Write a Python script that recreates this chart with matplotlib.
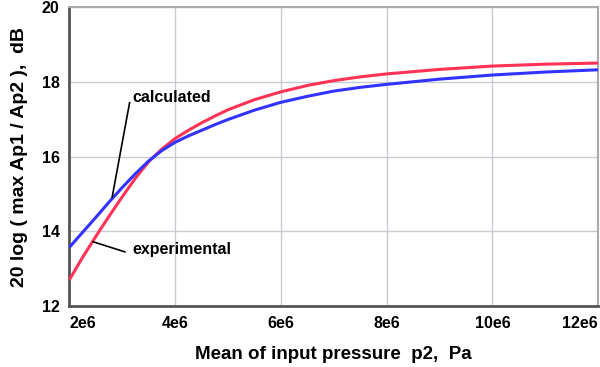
import matplotlib
matplotlib.use("Agg")
import matplotlib.pyplot as plt

# Data (pressure in units of 1e6 Pa)
p2_calc = [2.0, 2.25, 2.5, 2.75, 3.0, 3.25, 3.5, 3.75, 4.0, 4.25, 4.5, 4.75, 5.0, 5.5, 6.0, 6.5, 7.0, 7.5, 8.0, 9.0, 10.0, 11.0, 12.0]
calculated = [13.57, 13.97, 14.37, 14.78, 15.17, 15.54, 15.88, 16.16, 16.38, 16.55, 16.7, 16.85, 16.99, 17.24, 17.45, 17.61, 17.75, 17.85, 17.93, 18.07, 18.18, 18.26, 18.32]
p2_exp = [2.0, 2.25, 2.5, 2.75, 3.0, 3.25, 3.5, 3.75, 4.0, 4.25, 4.5, 4.75, 5.0, 5.5, 6.0, 6.5, 7.0, 7.5, 8.0, 9.0, 10.0, 11.0, 12.0]
experimental = [12.7, 13.3, 13.86, 14.4, 14.92, 15.42, 15.86, 16.2, 16.48, 16.7, 16.9, 17.08, 17.25, 17.52, 17.73, 17.9, 18.03, 18.13, 18.21, 18.33, 18.42, 18.47, 18.5]

xticks = [2, 4, 6, 8, 10, 12]
xtick_labels = ["2e6", "4e6", "6e6", "8e6", "10e6", "12e6"]
yticks = [12, 14, 16, 18, 20]

plt.rcParams['font.family'] = ['Liberation Sans', 'DejaVu Sans']

fig = plt.figure(figsize=(6, 3.67), dpi=100)
ax = fig.add_axes([0.1155, 0.166, 0.8815, 0.815])

ax.plot(p2_exp, experimental, color='#ff3355', lw=2.2, solid_capstyle='butt', zorder=3)
ax.plot(p2_calc, calculated, color='#3333ff', lw=2.2, solid_capstyle='butt', zorder=3)

ax.set_xlim(2, 12)
ax.set_ylim(12, 20)
ax.set_xticks(xticks)
ax.set_xticklabels(xtick_labels)
ax.set_yticks(yticks)
ax.grid(True, color='#c8ccd2', lw=1.0)
ax.set_axisbelow(True)

ax.tick_params(length=0, labelsize=11.5, pad=7)
for lab in ax.get_xticklabels() + ax.get_yticklabels():
    lab.set_fontweight('bold')
xl = ax.get_xticklabels()
xl[0].set_ha('left')
xl[-1].set_ha('right')

for side in ['left', 'bottom']:
    ax.spines[side].set_color('#555555')
    ax.spines[side].set_linewidth(2.0)
for side in ['top', 'right']:
    ax.spines[side].set_color('#aaaaaa')
    ax.spines[side].set_linewidth(1.5)

ax.set_xlabel("Mean of input pressure  p2,  Pa", fontsize=13.5, fontweight='bold', labelpad=11)
ax.set_ylabel("20 log ( max Ap1 / Ap2 ),  dB", fontsize=14, fontweight='bold', labelpad=10)

# annotations
ax.plot([3.14, 2.81], [17.44, 14.91], color='black', lw=1.2, zorder=4)
ax.text(3.2, 17.58, "calculated", fontsize=11.5, fontweight='bold', va='center', ha='left')
ax.plot([2.45, 3.05], [13.72, 13.45], color='black', lw=1.2, zorder=4)
ax.text(3.2, 13.5, "experimental", fontsize=11.5, fontweight='bold', va='center', ha='left')

fig.savefig("out.png", dpi=100)
